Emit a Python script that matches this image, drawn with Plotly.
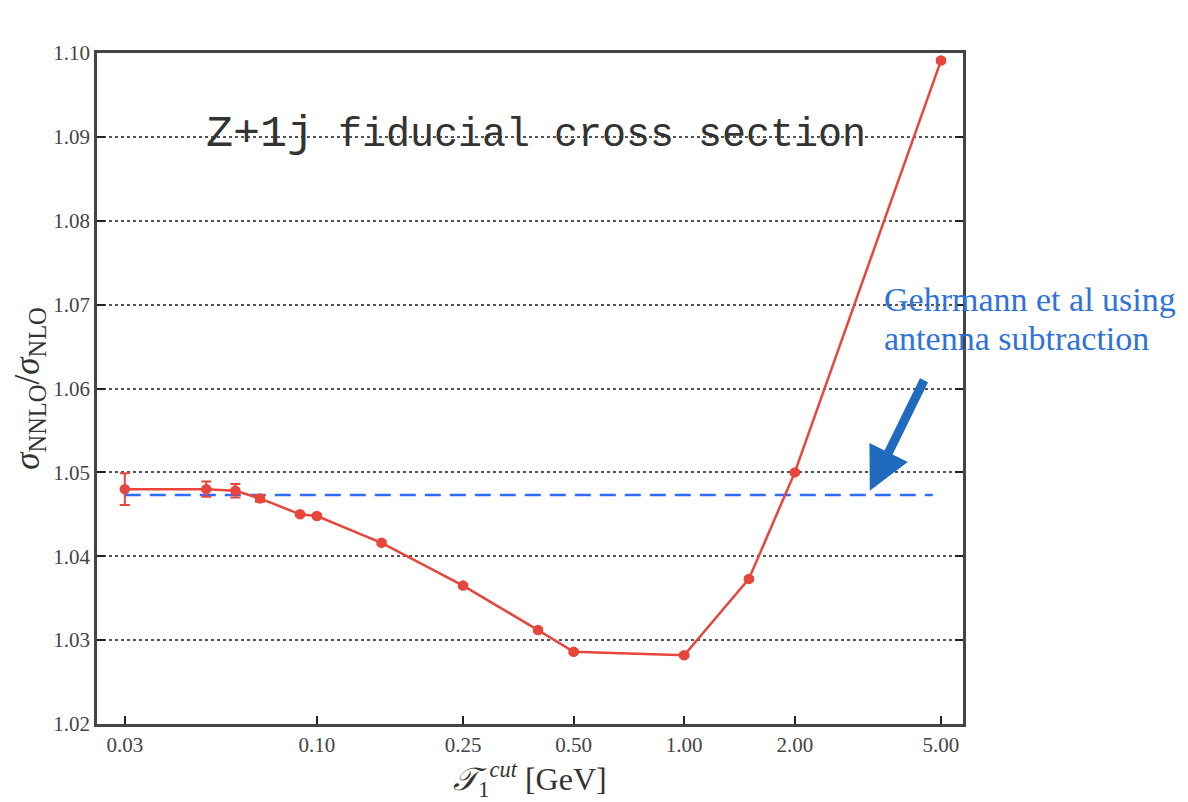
import plotly.graph_objects as go
import math

# Data
tau_cut = [0.03, 0.05, 0.06, 0.07, 0.09, 0.10, 0.15, 0.25, 0.40, 0.50, 1.00, 1.50, 2.00, 5.00]
ratio = [1.0480, 1.0480, 1.0478, 1.0469, 1.0450, 1.0448, 1.0416, 1.0365, 1.0312, 1.0286, 1.0282, 1.0373, 1.0500, 1.0991]
ratio_err = [0.0019, 0.0009, 0.0008, 0.0004, 0.0002, 0.0002, 0.0002, 0.0002, 0.0002, 0.0002, 0.0002, 0.0002, 0.0002, 0.0002]
antenna_x = [0.03, 4.75]
antenna_value = 1.0473
x_ticks = [0.03, 0.10, 0.25, 0.50, 1.00, 2.00, 5.00]
x_tick_labels = ["0.03", "0.10", "0.25", "0.50", "1.00", "2.00", "5.00"]
arrow_head = (3.2, 1.0478)

RED = "#E8453C"
BLUE_LINE = "#2F6BFF"
BLUE_TEXT = "#2F72D8"
BLUE_ARROW = "#1F6BC0"

fig = go.Figure()

fig.add_trace(go.Scatter(
    x=antenna_x, y=[antenna_value, antenna_value], mode="lines",
    line=dict(color=BLUE_LINE, width=2.5, dash="16px,9px"),
    showlegend=False, hoverinfo="skip"))

fig.add_trace(go.Scatter(
    x=tau_cut, y=ratio, mode="lines+markers",
    line=dict(color=RED, width=2.5),
    marker=dict(color=RED, size=10.5, symbol="circle"),
    error_y=dict(type="data", array=ratio_err, visible=True, color=RED, thickness=2, width=5),
    showlegend=False))

fig.update_layout(
    width=1188, height=802,
    margin=dict(l=97, r=225, t=53, b=78),
    paper_bgcolor="white", plot_bgcolor="white",
    font=dict(family="Liberation Serif", color="#333333"),
    xaxis=dict(
        type="log",
        range=[math.log10(0.0252), math.log10(5.74)],
        tickvals=x_ticks, ticktext=x_tick_labels,
        ticks="inside", ticklen=8, tickwidth=1.5, tickcolor="#222",
        showgrid=False, zeroline=False,
        showline=True, linecolor="#444", linewidth=2.5, mirror=True,
        tickfont=dict(family="Liberation Serif", size=21, color="#444"),
        title=dict(text="<i>𝒯</i><sub>1</sub><sup><i>cut</i></sup> [GeV]",
                   font=dict(family="Liberation Serif", size=32, color="#333"), standoff=4),
    ),
    yaxis=dict(
        range=[1.02, 1.10], dtick=0.01, tickformat=".2f",
        ticks="inside", ticklen=8, tickwidth=1.5, tickcolor="#222",
        showgrid=True, gridcolor="#555", griddash="dot", gridwidth=1.5,
        zeroline=False,
        showline=True, linecolor="#444", linewidth=2.5, mirror="ticks",
        tickfont=dict(family="Liberation Serif", size=21, color="#444"),
        title=dict(text="<i>σ</i><sub>NNLO</sub>/<i>σ</i><sub>NLO</sub>",
                   font=dict(family="Liberation Serif", size=35, color="#333"), standoff=4),
    ),
)

fig.add_annotation(
    text="<span style='font-size:45px'>Z+1j</span> fiducial cross section",
    xref="paper", yref="paper", x=0.507, y=0.879,
    xanchor="center", yanchor="middle", showarrow=False,
    font=dict(family="Liberation Mono", size=40, color="#333"))

fig.add_annotation(
    text="Gehrmann et al using",
    xref="paper", yref="paper", x=0.906, y=0.633,
    xanchor="left", yanchor="middle", align="left", showarrow=False,
    font=dict(family="Liberation Serif", size=34, color=BLUE_TEXT))
fig.add_annotation(
    text="antenna subtraction",
    xref="paper", yref="paper", x=0.906, y=0.575,
    xanchor="left", yanchor="middle", align="left", showarrow=False,
    font=dict(family="Liberation Serif", size=34, color=BLUE_TEXT))

fig.add_annotation(
    x=math.log10(arrow_head[0]), y=arrow_head[1], xref="x", yref="y",
    ax=55, ay=-112, axref="pixel", ayref="pixel",
    showarrow=True, arrowhead=2, arrowsize=0.95, arrowwidth=9,
    arrowcolor=BLUE_ARROW, text="")

fig.write_html("out.html")
